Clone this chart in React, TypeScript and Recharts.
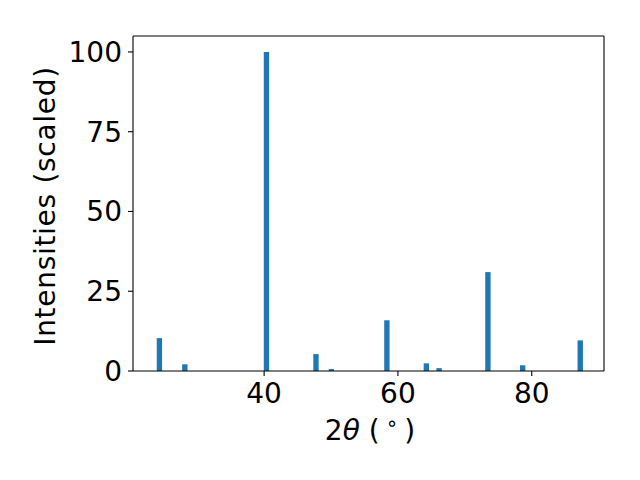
import React from 'react';
import { BarChart, Bar, XAxis, YAxis, ReferenceLine } from 'recharts';

const peakPositions = [24.3, 28.1, 40.3, 47.7, 50.0, 58.3, 64.2, 66.1, 73.4, 78.6, 87.2];
const peakIntensities = [10.3, 2.1, 100, 5.3, 0.6, 15.9, 2.4, 0.9, 31.0, 1.8, 9.6];
const xTicks = [40, 60, 80];
const yTicks = [0, 25, 50, 75, 100];
const xDomain: [number, number] = [20.4, 90.8];
const yDomain: [number, number] = [0, 105];

const data = peakPositions.map((x, i) => ({ x, y: peakIntensities[i] }));

const W = 640;
const H = 480;
const M = { top: 36, right: 36, bottom: 0, left: 0 };
const YW = 133;
const XH = 109;
const plotW = W - M.left - M.right - YW;
const barWidthUnits = 0.8;
const barSize = (barWidthUnits * plotW) / (xDomain[1] - xDomain[0]);

const FONT = 'DejaVu Sans';
const FS = 28;
const BLUE = '#1f77b4';

const YLabel = () => (
  <text
    x={0}
    y={0}
    transform="translate(54.5, 206) rotate(-90)"
    textAnchor="middle"
    fontFamily={FONT}
    fontSize={FS}
    letterSpacing={0.7}
    fill="#000"
  >
    Intensities (scaled)
  </text>
);

const XLabel = () => (
  <text x={370} y={439.5} textAnchor="middle" fontFamily={FONT} fontSize={FS} fill="#000">
    2<tspan fontStyle="italic">θ</tspan> (<tspan dx={6} dy={-10} fontSize={20}>∘</tspan>
    <tspan dx={6} dy={10}>)</tspan>
  </text>
);

export default function App() {
  return (
    <div style={{ position: 'absolute', left: 0, top: 0, width: W, height: H, background: '#fff' }}>
      <BarChart width={W} height={H} data={data} margin={M}>
        <XAxis
          dataKey="x"
          type="number"
          domain={xDomain}
          ticks={xTicks}
          allowDataOverflow
          height={XH}
          tickSize={5}
          tickMargin={7}
          axisLine={{ stroke: '#000', strokeWidth: 1.1 }}
          tickLine={{ stroke: '#000', strokeWidth: 1.1 }}
          tick={{ fill: '#000', fontFamily: FONT, fontSize: FS }}
          label={{ content: () => <XLabel /> }}
        />
        <YAxis
          type="number"
          domain={yDomain}
          ticks={yTicks}
          allowDataOverflow
          width={YW}
          tickSize={5}
          tickMargin={6}
          axisLine={{ stroke: '#000', strokeWidth: 1.1 }}
          tickLine={{ stroke: '#000', strokeWidth: 1.1 }}
          tick={{ fill: '#000', fontFamily: FONT, fontSize: FS }}
          label={{ content: () => <YLabel /> }}
        />
        <ReferenceLine y={yDomain[1]} stroke="#000" strokeWidth={1.1} />
        <ReferenceLine x={xDomain[1]} stroke="#000" strokeWidth={1.1} />
        <Bar dataKey="y" fill={BLUE} barSize={barSize} isAnimationActive={false} />
      </BarChart>
    </div>
  );
}
